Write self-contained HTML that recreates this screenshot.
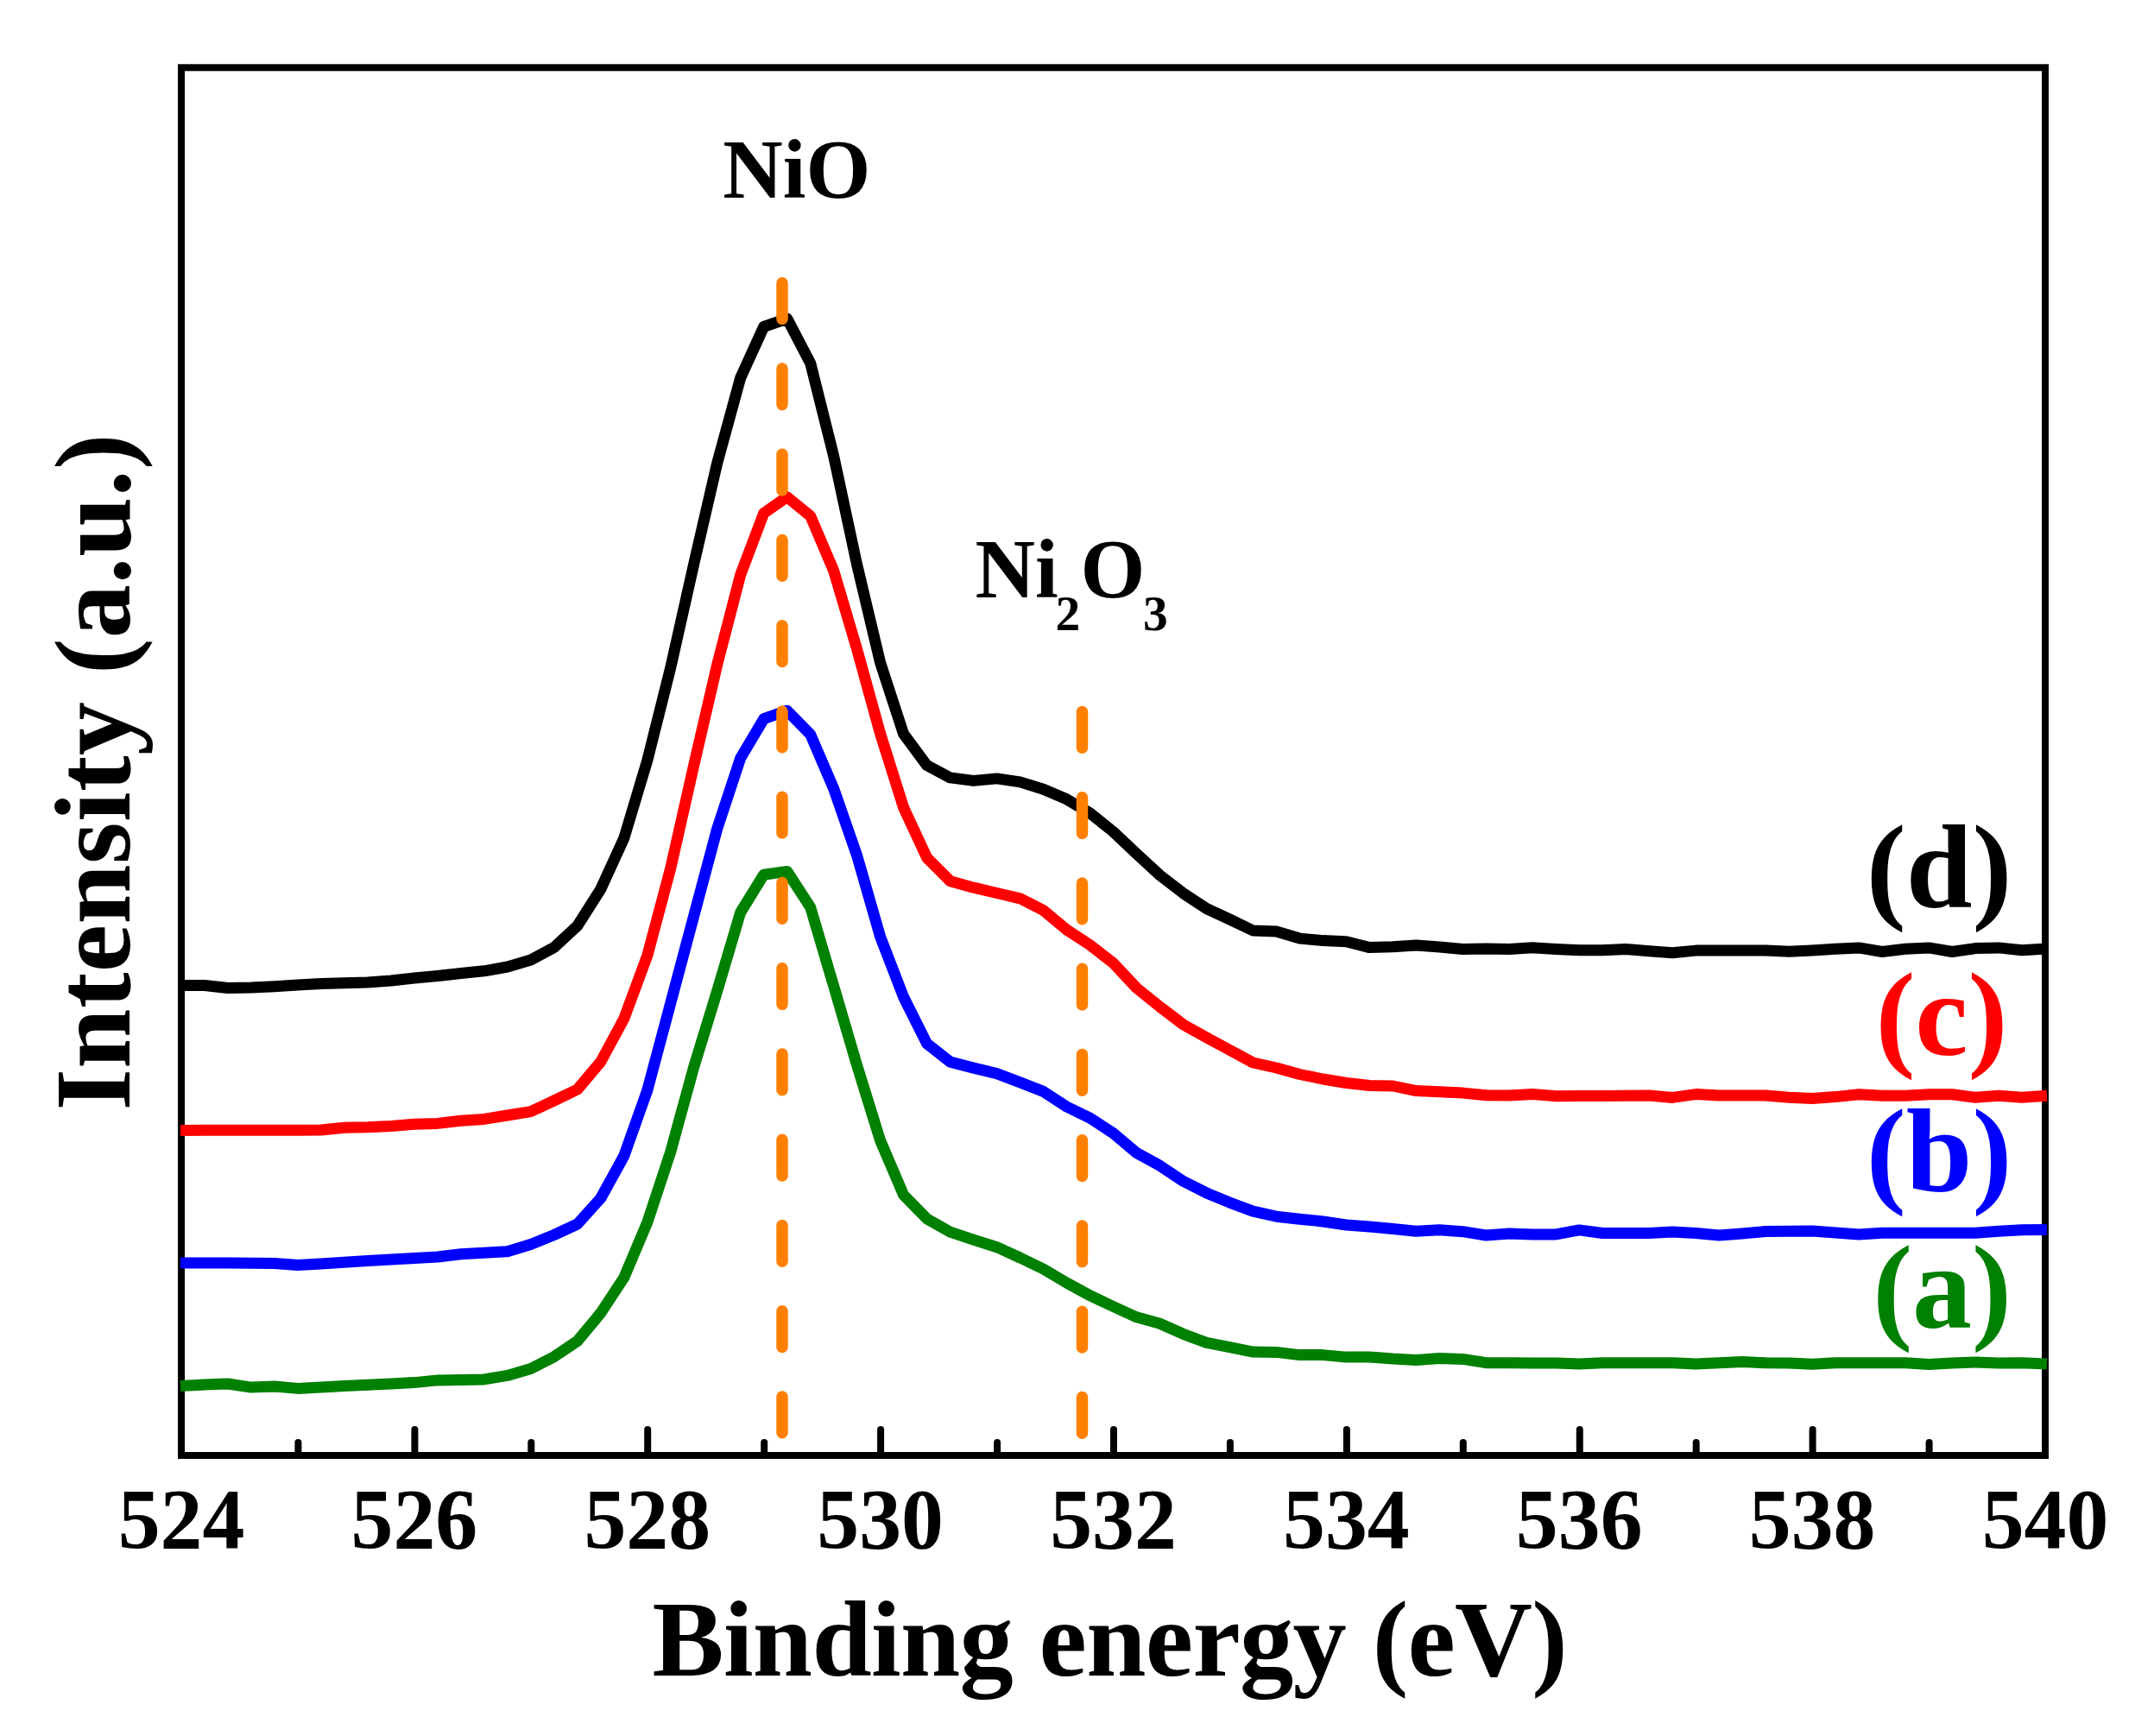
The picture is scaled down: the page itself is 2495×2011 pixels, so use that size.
<!DOCTYPE html>
<html><head><meta charset="utf-8"><title>XPS O 1s spectra</title>
<style>
html,body{margin:0;padding:0;background:#fff;}
body{width:2495px;height:2011px;overflow:hidden;}
svg{display:block;}
text{font-family:"Liberation Serif",serif;font-weight:bold;}
</style></head><body>
<svg width="2495" height="2011" viewBox="0 0 2495 2011">
<rect x="0" y="0" width="2495" height="2011" fill="#ffffff"/>
<rect x="210" y="78.3" width="2159" height="1607.7" fill="none" stroke="#000" stroke-width="8"/>
<g fill="none" stroke-width="13" stroke-linejoin="round" stroke-linecap="butt">
<polyline stroke="#000000" points="209.0,1141.5 237.0,1141.5 264.0,1144.5 291.0,1144.0 317.9,1142.7 344.9,1141.0 371.9,1139.5 398.9,1138.7 425.9,1138.0 452.9,1136.0 479.9,1133.0 506.9,1130.5 533.9,1127.5 560.8,1124.8 587.8,1120.0 614.8,1112.0 641.8,1097.6 668.8,1072.5 695.8,1030.0 722.8,971.0 749.8,880.8 776.7,773.7 803.7,653.4 830.7,536.5 857.7,437.8 884.7,378.5 911.7,369.1 938.7,420.7 965.6,528.0 992.6,654.0 1019.6,767.5 1046.6,850.2 1073.6,886.6 1100.6,900.9 1127.6,904.4 1154.6,901.9 1181.6,905.9 1208.5,914.2 1235.5,925.8 1262.5,941.9 1289.5,963.5 1316.5,989.0 1343.5,1013.9 1370.5,1034.7 1397.5,1052.5 1424.4,1065.0 1451.4,1078.0 1478.4,1079.0 1505.4,1087.1 1532.4,1089.6 1559.4,1090.8 1586.4,1097.6 1613.4,1096.8 1640.3,1095.1 1667.3,1097.1 1694.3,1099.4 1721.3,1099.1 1748.3,1099.4 1775.3,1097.8 1802.3,1099.6 1829.2,1100.8 1856.2,1100.8 1883.2,1099.6 1910.2,1101.8 1937.2,1103.8 1964.2,1101.1 1991.2,1101.0 2018.2,1101.0 2045.2,1101.1 2072.1,1102.3 2099.1,1100.9 2126.1,1099.3 2153.1,1097.9 2180.1,1102.5 2207.1,1099.3 2234.1,1097.9 2261.1,1102.5 2288.0,1098.6 2315.0,1097.9 2342.0,1100.7 2371.0,1098.9"/>
<polyline stroke="#ff0000" points="209.0,1309.4 237.0,1309.2 264.0,1309.2 291.0,1309.2 317.9,1309.2 344.9,1309.2 371.9,1309.0 398.9,1306.2 425.9,1305.8 452.9,1304.4 479.9,1302.2 506.9,1301.4 533.9,1298.2 560.8,1296.4 587.8,1292.0 614.8,1287.6 641.8,1275.0 668.8,1262.0 695.8,1230.0 722.8,1180.0 749.8,1107.0 776.7,1006.0 803.7,886.5 830.7,770.0 857.7,665.9 884.7,594.5 911.7,575.7 938.7,597.7 965.6,660.9 992.6,752.0 1019.6,849.7 1046.6,935.5 1073.6,993.6 1100.6,1020.7 1127.6,1028.2 1154.6,1034.5 1181.6,1040.8 1208.5,1054.5 1235.5,1077.0 1262.5,1094.6 1289.5,1115.6 1316.5,1144.5 1343.5,1166.3 1370.5,1186.8 1397.5,1201.9 1424.4,1216.4 1451.4,1231.0 1478.4,1237.0 1505.4,1244.5 1532.4,1250.0 1559.4,1254.5 1586.4,1257.5 1613.4,1258.0 1640.3,1263.6 1667.3,1264.8 1694.3,1266.1 1721.3,1268.8 1748.3,1268.9 1775.3,1267.6 1802.3,1269.8 1829.2,1269.6 1856.2,1269.4 1883.2,1269.3 1910.2,1269.1 1937.2,1271.4 1964.2,1267.6 1991.2,1269.1 2018.2,1269.1 2045.2,1269.1 2072.1,1271.3 2099.1,1272.6 2126.1,1270.6 2153.1,1267.8 2180.1,1269.2 2207.1,1269.2 2234.1,1267.8 2261.1,1267.8 2288.0,1271.3 2315.0,1269.2 2342.0,1271.3 2371.0,1269.2"/>
<polyline stroke="#0000ff" points="209.0,1463.0 237.0,1463.0 264.0,1463.0 291.0,1463.2 317.9,1463.5 344.9,1465.4 371.9,1464.0 398.9,1462.2 425.9,1460.5 452.9,1459.0 479.9,1457.5 506.9,1456.0 533.9,1452.8 560.8,1451.3 587.8,1449.8 614.8,1441.5 641.8,1430.5 668.8,1418.0 695.8,1388.0 722.8,1339.0 749.8,1263.0 776.7,1162.3 803.7,1061.0 830.7,960.0 857.7,878.3 884.7,832.7 911.7,823.2 938.7,850.7 965.6,913.4 992.6,991.0 1019.6,1085.0 1046.6,1155.0 1073.6,1208.8 1100.6,1230.1 1127.6,1237.1 1154.6,1243.6 1181.6,1253.9 1208.5,1264.4 1235.5,1282.0 1262.5,1295.1 1289.5,1312.7 1316.5,1335.5 1343.5,1350.3 1370.5,1368.3 1397.5,1381.9 1424.4,1393.1 1451.4,1403.2 1478.4,1409.2 1505.4,1412.2 1532.4,1415.0 1559.4,1419.0 1586.4,1421.0 1613.4,1423.5 1640.3,1426.2 1667.3,1424.7 1694.3,1426.7 1721.3,1431.0 1748.3,1429.0 1775.3,1429.9 1802.3,1429.9 1829.2,1424.9 1856.2,1428.5 1883.2,1428.5 1910.2,1428.5 1937.2,1427.0 1964.2,1428.5 1991.2,1431.0 2018.2,1428.9 2045.2,1426.5 2072.1,1426.2 2099.1,1426.0 2126.1,1428.1 2153.1,1430.0 2180.1,1428.3 2207.1,1428.3 2234.1,1428.3 2261.1,1428.3 2288.0,1428.3 2315.0,1426.2 2342.0,1424.8 2371.0,1424.4"/>
<polyline stroke="#008000" points="209.0,1605.4 237.0,1604.0 264.0,1603.0 291.0,1607.1 317.9,1606.0 344.9,1608.4 371.9,1607.0 398.9,1605.5 425.9,1604.2 452.9,1603.0 479.9,1601.6 506.9,1598.9 533.9,1598.4 560.8,1597.9 587.8,1593.4 614.8,1585.5 641.8,1571.7 668.8,1553.5 695.8,1521.0 722.8,1480.0 749.8,1416.0 776.7,1334.5 803.7,1236.0 830.7,1148.0 857.7,1057.0 884.7,1013.2 911.7,1009.4 938.7,1051.0 965.6,1142.0 992.6,1234.0 1019.6,1321.1 1046.6,1384.3 1073.6,1411.8 1100.6,1427.1 1127.6,1436.2 1154.6,1444.7 1181.6,1457.0 1208.5,1470.0 1235.5,1486.0 1262.5,1500.7 1289.5,1513.5 1316.5,1525.8 1343.5,1533.3 1370.5,1545.3 1397.5,1555.3 1424.4,1560.6 1451.4,1566.1 1478.4,1566.4 1505.4,1569.6 1532.4,1569.6 1559.4,1572.1 1586.4,1572.1 1613.4,1574.1 1640.3,1575.4 1667.3,1573.4 1694.3,1574.4 1721.3,1578.7 1748.3,1578.8 1775.3,1579.0 1802.3,1579.1 1829.2,1580.1 1856.2,1578.8 1883.2,1578.8 1910.2,1578.8 1937.2,1578.8 1964.2,1580.1 1991.2,1578.8 2018.2,1577.6 2045.2,1578.8 2072.1,1579.1 2099.1,1580.3 2126.1,1578.7 2153.1,1578.7 2180.1,1578.7 2207.1,1578.7 2234.1,1580.4 2261.1,1579.0 2288.0,1578.0 2315.0,1579.0 2342.0,1578.7 2371.0,1580.1"/>
</g>
<g fill="none" stroke="#ff8000" stroke-width="13.5" stroke-linecap="round" stroke-dasharray="41.75 57.5">
<line x1="906" y1="327.65" x2="906" y2="1700"/>
<line x1="1253.5" y1="824.55" x2="1253.5" y2="1700"/>
</g>
<g stroke="#000" stroke-width="8" stroke-linecap="round">
<line x1="345.4" y1="1683" x2="345.4" y2="1671.0"/>
<line x1="480.4" y1="1683" x2="480.4" y2="1656.0"/>
<line x1="615.3" y1="1683" x2="615.3" y2="1671.0"/>
<line x1="750.2" y1="1683" x2="750.2" y2="1656.0"/>
<line x1="885.2" y1="1683" x2="885.2" y2="1671.0"/>
<line x1="1020.1" y1="1683" x2="1020.1" y2="1656.0"/>
<line x1="1155.1" y1="1683" x2="1155.1" y2="1671.0"/>
<line x1="1290.0" y1="1683" x2="1290.0" y2="1656.0"/>
<line x1="1424.9" y1="1683" x2="1424.9" y2="1671.0"/>
<line x1="1559.9" y1="1683" x2="1559.9" y2="1656.0"/>
<line x1="1694.8" y1="1683" x2="1694.8" y2="1671.0"/>
<line x1="1829.8" y1="1683" x2="1829.8" y2="1656.0"/>
<line x1="1964.7" y1="1683" x2="1964.7" y2="1671.0"/>
<line x1="2099.6" y1="1683" x2="2099.6" y2="1656.0"/>
<line x1="2234.6" y1="1683" x2="2234.6" y2="1671.0"/>
</g>
<g font-size="97.8" text-anchor="middle" fill="#000" transform="translate(0,1793) scale(1,1.02) translate(0,-1793)">
<text x="210.0" y="1793.0">524</text>
<text x="479.9" y="1793.0">526</text>
<text x="749.8" y="1793.0">528</text>
<text x="1019.6" y="1793.0">530</text>
<text x="1289.5" y="1793.0">532</text>
<text x="1559.4" y="1793.0">534</text>
<text x="1829.2" y="1793.0">536</text>
<text x="2099.1" y="1793.0">538</text>
<text x="2369.0" y="1793.0">540</text>
</g>
<text x="755.5" y="1941" font-size="124.5" textLength="1060.3" lengthAdjust="spacing" fill="#000">Binding energy (eV)</text>
<text transform="translate(149.9,1286.5) rotate(-90)" font-size="124.5" textLength="784" lengthAdjust="spacing" fill="#000">Intensity (a.u.)</text>
<text x="837.3" y="228.6" font-size="96.3" fill="#000">NiO</text>
<text y="691.7" font-size="96.3" fill="#000"><tspan x="1129.5">Ni</tspan><tspan x="1222.5" dy="38.5" font-size="57.5">2</tspan><tspan x="1251.6" dy="-38.5">O</tspan><tspan x="1324" dy="38.5" font-size="57.5">3</tspan></text>
<g font-size="138" text-anchor="middle">
<text x="2246.2" y="1050.5" fill="#000000">(d)</text>
<text x="2249" y="1222" fill="#ff0000">(c)</text>
<text x="2246.2" y="1379.5" fill="#0000ff">(b)</text>
<text x="2249.6" y="1538" fill="#008000">(a)</text>
</g>
</svg>
</body></html>
